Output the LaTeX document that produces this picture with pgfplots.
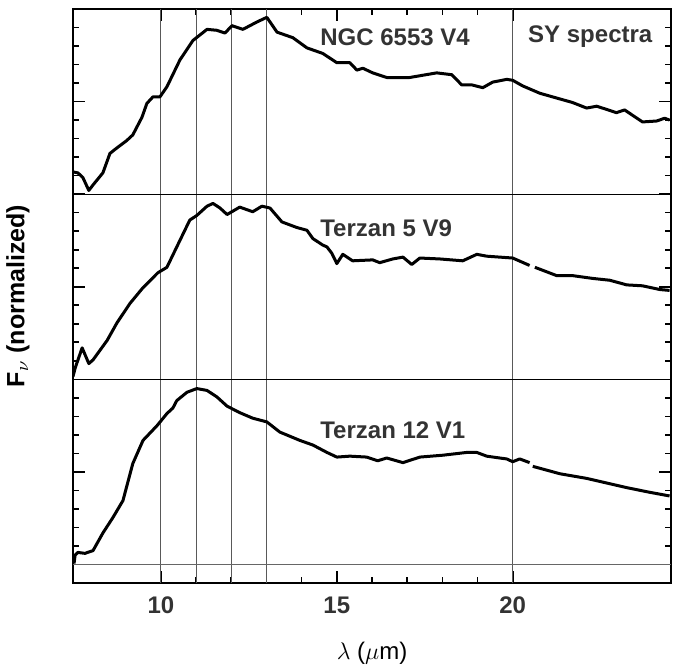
\documentclass[border=0pt]{standalone}
\usepackage{fontspec}
\setmainfont{Liberation Sans}
\usepackage{pgfplots}
\pgfplotsset{compat=1.18}
\usepackage{pgfplotstable}

% spectra, already offset into their panels (panel height = 2)
\pgfplotstableread{
x y
7.50 4.24
7.64 4.23
7.78 4.18
7.95 4.04
8.07 4.10
8.35 4.23
8.55 4.44
8.75 4.50
9.03 4.58
9.20 4.64
9.46 4.83
9.60 4.98
9.77 5.05
9.97 5.05
10.17 5.16
10.54 5.45
10.91 5.66
11.31 5.78
11.59 5.77
11.82 5.74
12.02 5.82
12.33 5.78
12.73 5.86
13.01 5.91
13.30 5.75
13.75 5.69
14.15 5.58
14.60 5.52
15.00 5.42
15.37 5.42
15.57 5.34
15.74 5.36
16.02 5.31
16.42 5.26
17.07 5.26
17.84 5.31
18.27 5.29
18.55 5.18
18.84 5.18
19.15 5.15
19.43 5.21
19.83 5.24
20.00 5.23
20.28 5.17
20.77 5.09
21.14 5.05
21.70 4.99
22.10 4.93
22.39 4.95
22.95 4.88
23.18 4.91
23.69 4.78
24.09 4.79
24.32 4.82
24.46 4.80
}\ngc

\pgfplotstableread{
x y
7.50 2.03
7.56 2.12
7.76 2.34
7.95 2.17
8.07 2.21
8.47 2.42
8.75 2.61
9.12 2.82
9.49 2.99
9.91 3.15
10.17 3.21
10.45 3.43
10.82 3.72
11.02 3.77
11.31 3.87
11.48 3.90
11.68 3.85
11.88 3.78
12.24 3.86
12.61 3.81
12.87 3.87
13.10 3.85
13.44 3.70
13.86 3.64
14.15 3.61
14.32 3.52
14.60 3.45
14.72 3.43
14.86 3.36
15.00 3.25
15.17 3.35
15.45 3.28
16.02 3.29
16.22 3.26
16.59 3.30
16.88 3.32
17.13 3.24
17.36 3.31
17.93 3.30
18.58 3.28
18.98 3.35
19.26 3.33
20.00 3.31
20.48 3.23
20.55 nan
20.63 3.21
21.25 3.12
21.70 3.12
22.27 3.09
22.76 3.07
23.24 3.02
23.69 3.01
24.18 2.97
24.46 2.96
}\terzanfive

\pgfplotstableread{
x y
7.53 0.01
7.56 0.10
7.64 0.13
7.84 0.12
8.07 0.15
8.35 0.34
8.64 0.51
8.92 0.69
9.20 1.09
9.49 1.34
9.89 1.50
10.17 1.63
10.34 1.69
10.45 1.77
10.74 1.86
11.02 1.90
11.31 1.88
11.59 1.81
11.88 1.71
12.24 1.64
12.61 1.58
13.01 1.54
13.38 1.43
13.95 1.34
14.32 1.29
14.72 1.21
15.00 1.16
15.37 1.17
15.85 1.16
16.16 1.12
16.42 1.15
16.88 1.10
17.36 1.16
18.01 1.18
18.69 1.21
18.98 1.21
19.26 1.17
19.63 1.15
19.83 1.14
20.00 1.11
20.20 1.14
20.48 1.10
20.52 nan
20.57 1.06
21.34 0.98
22.10 0.93
22.67 0.88
23.24 0.83
23.89 0.78
24.46 0.74
}\terzantwelve

\begin{document}
\begin{tikzpicture}
\begin{axis}[
  scale only axis,
  width=299pt, height=287pt,
  xmin=7.5, xmax=24.5,
  ymin=-0.2, ymax=6,
  xtick={10,15,20}, minor x tick num=4,
  ytick={0,1,2,3,4,5,6}, minor y tick num=4,
  yticklabels={},
  tick align=inside,
  major tick length=6pt, minor tick length=3pt,
  major tick style={line width=0.8pt, black},
  minor tick style={line width=0.8pt, black},
  axis line style={line width=1.2pt},
  /pgf/number format/assume math mode=true,
  xticklabel style={font=\bfseries\fontsize{12}{14}\selectfont, text=black!80, anchor=center, yshift=-11pt},
  xlabel={$\lambda$ ($\mu$m)},
  xlabel style={font=\fontsize{12}{14}\selectfont, at={(axis description cs:0.5,0)}, anchor=center, yshift=-35pt},
  ylabel={\bfseries F$_{\nu}$ (normalized)},
  ylabel style={font=\fontsize{12.5}{14}\selectfont, at={(axis description cs:-0.092,0.5)}, anchor=center},
  unbounded coords=jump,
  clip=true,
]
% reference lines
\draw[black!65, line width=0.5pt] (axis cs:10,-0.2) -- (axis cs:10,6);
\draw[black!65, line width=0.5pt] (axis cs:11,-0.2) -- (axis cs:11,6);
\draw[black!65, line width=0.5pt] (axis cs:12,-0.2) -- (axis cs:12,6);
\draw[black!65, line width=0.5pt] (axis cs:13,-0.2) -- (axis cs:13,6);
\draw[black!65, line width=0.5pt] (axis cs:20,-0.2) -- (axis cs:20,6);
\draw[black!60, line width=0.5pt] (axis cs:7.5,0) -- (axis cs:24.5,0);
\draw[black, line width=0.6pt] (axis cs:7.5,2) -- (axis cs:24.5,2);
\draw[black, line width=0.6pt] (axis cs:7.5,4) -- (axis cs:24.5,4);

\addplot[black, line width=1.5pt, line join=round] table {\ngc};
\addplot[black, line width=1.5pt, line join=round] table {\terzanfive};
\addplot[black, line width=1.5pt, line join=round] table {\terzantwelve};

\node[anchor=west, inner sep=0pt, font=\bfseries\fontsize{12}{14}\selectfont, text=black!80] at (axis cs:14.52,5.70) {NGC 6553 V4};
\node[anchor=west, inner sep=0pt, font=\bfseries\fontsize{12}{14}\selectfont, text=black!80] at (axis cs:20.43,5.70) {SY spectra};
\node[anchor=west, inner sep=0pt, font=\bfseries\fontsize{12}{14}\selectfont, text=black!80] at (axis cs:14.52,3.63) {Terzan 5 V9};
\node[anchor=west, inner sep=0pt, font=\bfseries\fontsize{12}{14}\selectfont, text=black!80] at (axis cs:14.52,1.45) {Terzan 12 V1};
\end{axis}
\pgfresetboundingbox
\path (current axis.south west) +(-36.5pt,-41.5pt) (current axis.north east) +(4.5pt,4.5pt);
\end{tikzpicture}
\end{document}
